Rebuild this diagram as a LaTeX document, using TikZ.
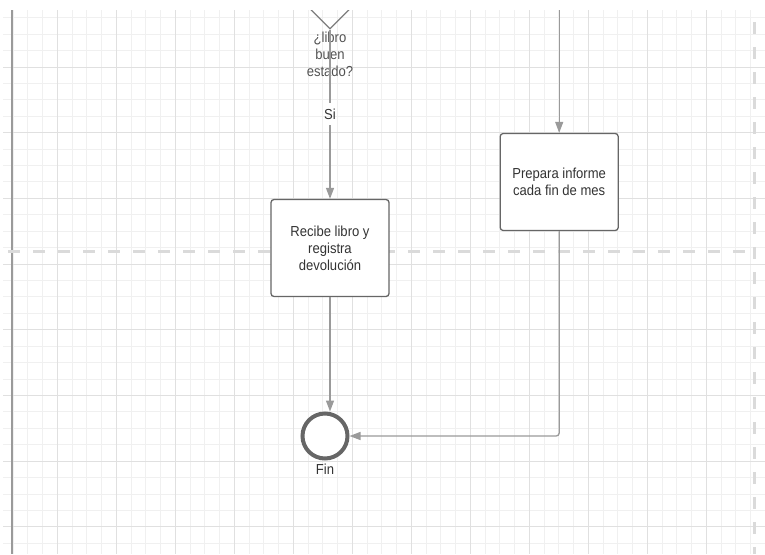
\documentclass[tikz,border=0pt]{standalone}
\usepackage{fontspec}
\setmainfont[FakeStretch=0.9]{Liberation Sans}
\usetikzlibrary{positioning,shapes.geometric,arrows.meta}
\definecolor{gridfine}{HTML}{F0F0F0}
\definecolor{gridmajor}{HTML}{E0E0E0}
\definecolor{lanegray}{HTML}{9A9A9A}
\definecolor{dashgray}{HTML}{DADADA}
\definecolor{flowgray}{HTML}{9A9A9A}
\definecolor{boxgray}{HTML}{666666}
\definecolor{textgray}{HTML}{333333}

\begin{document}
\begin{tikzpicture}
                    [
                        x=1pt, y=-1pt,
                        every node/.style={font=\fontsize{14.5}{17}\selectfont, text=textgray},
                        task/.style={draw=boxgray, line width=1.3pt, rounded corners=3pt, fill=white,
                            align=center, minimum width=118pt, minimum height=97pt, inner sep=0pt},
                        decision/.style={diamond, draw=boxgray!85, line width=1.3pt,
                            minimum width=80pt, minimum height=80pt, inner sep=0pt},
                        endevent/.style={circle, draw=boxgray, line width=4pt, fill=white,
                            minimum size=45pt, inner sep=0pt},
                        flowline/.style={draw=flowgray, line width=1.3pt},
                        flow/.style={flowline, -{Triangle[length=11pt,width=8pt]}},
                        lane/.style={draw=lanegray, line width=2pt},
                        lanedash/.style={draw=dashgray, line width=3pt, dash pattern=on 12pt off 13pt},
                        gridline/.style={draw=gridfine, line width=1pt},
                        gridmain/.style={draw=gridmajor, line width=1pt}
                    ]

                    \useasboundingbox (0,0) rectangle (765,554);

                    \begin{scope}
                    \clip (3,10) rectangle (765,554);

                    % Raster
                    \foreach \i in {0,...,52}
                        \draw[gridline] (57.3+14.75*\i-59,10) -- ++(0,544);
                    \foreach \i in {0,...,34}
                        \draw[gridline] (3,67+16.425*\i-65.7) -- ++(762,0);
                    \foreach \i in {0,...,12}
                        \draw[gridmain] (57.3+59*\i-59,10) -- ++(0,544);
                    \foreach \i in {0,...,8}
                        \draw[gridmain] (3,67+65.7*\i-65.7) -- ++(762,0);

                    % Bahnen
                    \draw[lane] (12,10) -- (12,554);
                    \draw[lanedash] (8,251) -- (754,251);
                    \draw[lanedash] (754,22) -- (754,554);

                    \node[decision, label={[name=dec-txt, text=textgray!85, align=center,
                            inner sep=0pt, label distance=2pt]below:{¿libro\\buen\\estado?}}]
                        (dec) at (330,-11) {};
                    \node[inner sep=0pt, minimum height=22pt] (si) at (330,114) {Si};
                    \node[task] (recibe) at (330,248) {Recibe libro y\\registra\\devolución};
                    \node[task] (informe) at (559.2,182) {Prepara informe\\cada fin de mes};
                    \node[endevent, label={[name=fin-lbl, inner sep=0pt, label distance=3pt]below:Fin}]
                        (fin) at (325,436) {};
                    \coordinate (informe-in) at (559.2,0);

                    \draw[flowline] (dec.south) -- (si.north);
                    \draw[flow] (si.south) -- (recibe.north);
                    \draw[flow] (informe-in) -- (informe.north);
                    \draw[flow] (recibe.south) -- (recibe.south |- fin.north);
                    \draw[flow, rounded corners=3pt] (informe.south) |- (fin.east);
                    \end{scope}
                \end{tikzpicture}
\end{document}
